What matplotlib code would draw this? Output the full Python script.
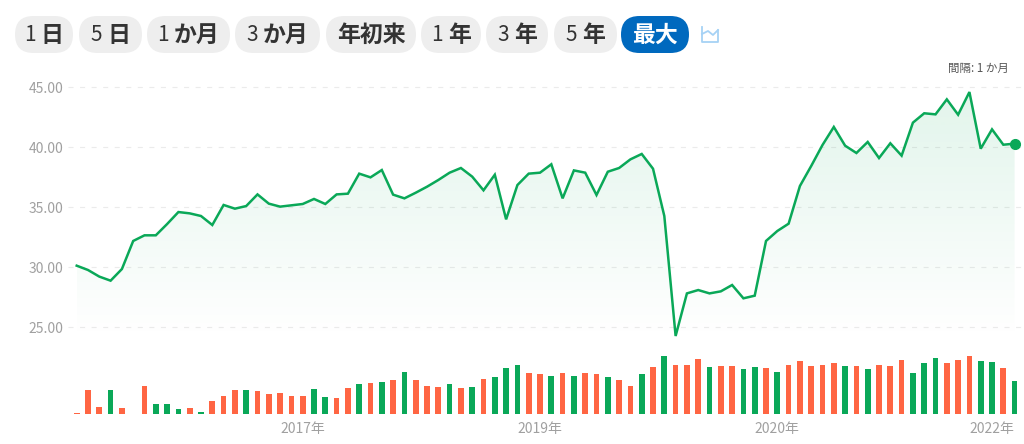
import matplotlib
matplotlib.use('Agg')
import matplotlib.pyplot as plt
import numpy as np
from matplotlib.patches import FancyBboxPatch

plt.rcParams['font.family'] = ['Noto Sans CJK JP', 'DejaVu Sans']

# Значения
prices = [30.11, 29.75, 29.2, 28.86, 29.83, 32.17, 32.64, 32.64, 33.58, 34.58,
          34.47, 34.25, 33.5, 35.17, 34.86, 35.08, 36.05, 35.28, 35.03, 35.14,
          35.25, 35.67, 35.25, 36.05, 36.11, 37.78, 37.47, 38.08, 36.03, 35.72,
          36.19, 36.69, 37.25, 37.86, 38.25, 37.53, 36.39, 37.69, 33.97, 36.83,
          37.78, 37.86, 38.56, 35.72, 38.05, 37.86, 36.0, 37.94, 38.25, 38.97,
          39.42, 38.19, 34.25, 24.25, 27.8, 28.08, 27.8, 27.97, 28.5, 27.39,
          27.61, 32.17, 33.0, 33.61, 36.75, 38.42, 40.17, 41.67, 40.11, 39.5,
          40.42, 39.08, 40.31, 39.28, 42.03, 42.81, 42.72, 43.97, 42.69, 44.58,
          39.86, 41.47, 40.19, 40.28]
volumes = [1, 23.7, 7.3, 23.7, 6.3, 0, 28.3, 9.7, 9.7, 5,
           6.3, 2, 13.3, 18, 23.7, 23.7, 22.7, 20.3, 21.3, 18,
           18, 25, 16.7, 15.7, 26, 29.7, 30.7, 31.7, 34.3, 42,
           34.3, 28.3, 27.3, 29.7, 26, 27.3, 35.3, 36.7, 45.7, 49,
           41.3, 40, 37.7, 41.3, 37.7, 41.3, 40, 36.7, 34.3, 28.3,
           40, 47, 57.7, 49, 49, 55, 47, 48.3, 48.3, 44.7,
           47, 45.7, 42.3, 49, 52.7, 48.3, 49, 50.7, 48.3, 48.3,
           44.7, 49, 48.3, 54, 41.3, 50.7, 56, 50.7, 54, 57.7,
           52.7, 51.7, 45.7, 33]
# Номера зеленых столбиков, остальные красные
green_idx = [3, 7, 8, 9, 11, 15, 21, 22, 25, 27, 29, 33, 35, 37, 38, 39, 42, 44,
             47, 50, 52, 56, 59, 60, 62, 68, 70, 74, 75, 76, 80, 81, 83]
y_ticks = [25, 30, 35, 40, 45]
year_ticks = [20, 41, 62, 81]
year_labels = ['2017年', '2019年', '2020年', '2022年']
buttons = ['1 日', '5 日', '1 か月', '3 か月', '年初来', '1 年', '3 年', '5 年', '最大']
button_edges = [(15, 73), (79, 142), (147, 230), (235, 320), (326, 416),
                (421, 481), (486, 548), (554, 617), (621, 689)]

W, H = 1024, 444
GREEN = '#0aa858'
RED = '#ff6543'
fig = plt.figure(figsize=(W / 100, H / 100), dpi=100)
renderer = fig.canvas.get_renderer()


def axes_px(x0, y0, x1, y1):
    return fig.add_axes([x0 / W, 1 - y1 / H, (x1 - x0) / W, (y1 - y0) / H])


# Слой с кнопками, координаты в пикселях
top = axes_px(0, 0, W, H)
top.set_xlim(0, W)
top.set_ylim(H, 0)
top.axis('off')
for label, (x0, x1) in zip(buttons, button_edges):
    active = label == '最大'
    top.add_patch(FancyBboxPatch((x0 + 18.5, 34.5), x1 - x0 - 37, 0,
                                 boxstyle='round,pad=18.5,rounding_size=18.5',
                                 fc='#0069be' if active else '#eeeeee', ec='none'))
    color = 'white' if active else '#333333'
    center = (x0 + x1) / 2
    if ' ' in label:
        # Цифра тоньше, чем иероглифы, поэтому две отдельные подписи
        digit, rest = label.split(' ')
        t1 = top.text(0, 35, digit, ha='left', va='center', fontsize=15, color=color)
        t2 = top.text(0, 35, rest, ha='left', va='center', fontsize=16.5,
                      fontweight='bold', color=color)
        w1 = t1.get_window_extent(renderer).width
        w2 = t2.get_window_extent(renderer).width
        left = center - (w1 + 5 + w2) / 2
        t1.set_x(left)
        t2.set_x(left + w1 + 5)
    else:
        top.text(center, 35, label, ha='center', va='center', fontsize=16.5,
                 fontweight='bold', color=color)
top.plot([702, 702, 718, 718], [27, 42.5, 42.5, 30], color='#a6d2f5', lw=1.3)
top.plot([702, 708, 713, 718], [34, 31, 35, 30], color='#a6d2f5', lw=1.3)
top.text(1009, 68, '間隔: 1 か月', ha='right', va='center', fontsize=8.3, color='#555555')

# Верхний график: цена
x = np.arange(len(prices))
ax = axes_px(68, 70, 1024, 340)
ax.patch.set_alpha(0)
ax.set_xlim(-0.77, 83.83)
ax.set_ylim(45 - 253 / 12, 45 + 17 / 12)
for s in ax.spines.values():
    s.set_visible(False)
ax.set_yticks(y_ticks)
ax.set_yticklabels(['%.2f' % v for v in y_ticks], color='#a0a0a0', fontsize=10)
ax.tick_params(axis='y', length=0, pad=3.5)
ax.set_xticks([])
ax.grid(axis='y', color='#ebebeb', lw=0.8, linestyle=(0, (4.5, 5.9)))
ax.set_axisbelow(True)

# Градиентная заливка под линией
poly = ax.fill_between(x, prices, ax.get_ylim()[0], color='none')
grad = np.zeros((256, 1, 4))
grad[:, 0, :3] = matplotlib.colors.to_rgb(GREEN)
grad[:, 0, 3] = np.linspace(0.12, 0.0, 256)
im = ax.imshow(grad, aspect='auto', origin='upper', zorder=1,
               extent=[0, len(prices) - 1, ax.get_ylim()[0], 45])
im.set_clip_path(poly.get_paths()[0], transform=ax.transData)
ax.set_xlim(-0.77, 83.83)
ax.set_ylim(45 - 253 / 12, 45 + 17 / 12)

ax.plot(x, prices, color=GREEN, lw=1.8, zorder=3, solid_joinstyle='miter')
ax.plot(x[-1], prices[-1], 'o', color=GREEN, ms=7, zorder=4, clip_on=False)

# Нижний график: объем
vol = axes_px(68, 340, 1024, 414)
vol.patch.set_alpha(0)
vol.set_xlim(-0.77, 83.83)
vol.set_ylim(0, 74)
for s in vol.spines.values():
    s.set_visible(False)
bar_colors = [GREEN if i in green_idx else RED for i in range(len(volumes))]
vol.bar(x, volumes, width=0.5, color=bar_colors, linewidth=0)
vol.set_yticks([])
vol.set_xticks(year_ticks)
vol.set_xticklabels(year_labels, color='#a0a0a0', fontsize=10)
vol.tick_params(axis='x', length=0, pad=5.7)

fig.savefig('out.png', dpi=100)
